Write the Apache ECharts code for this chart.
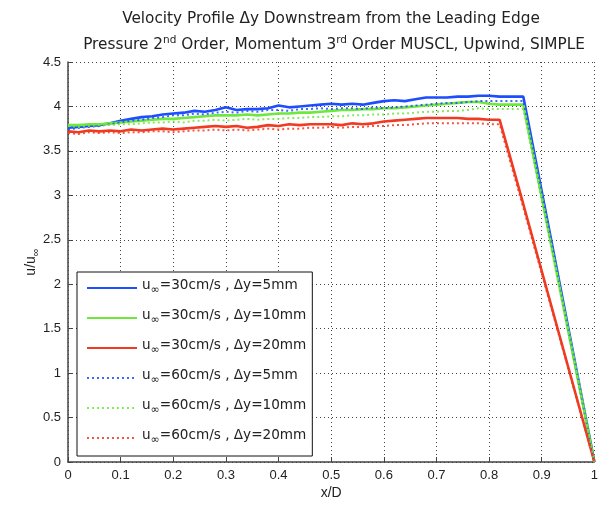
<!DOCTYPE html>
<html><head><meta charset="utf-8">
<script src="https://cdn.jsdelivr.net/npm/echarts@6/dist/echarts.min.js"></script>
<style>html,body{margin:0;padding:0;background:#fff}#c{width:601px;height:505px}</style>
</head><body><div id="c"></div>
<script>
const xs = [0,0.02,0.04,0.06,0.08,0.10,0.12,0.14,0.16,0.18,0.20,0.22,0.24,0.26,0.28,0.30,0.32,0.34,0.36,0.38,0.40,0.42,0.44,0.46,0.48,0.50,0.52,0.54,0.56,0.58,0.60,0.62,0.64,0.66,0.68,0.70,0.72,0.74,0.76,0.78,0.80,0.82,0.84,0.865,1.0];
const xTicks = ['0','0.1','0.2','0.3','0.4','0.5','0.6','0.7','0.8','0.9','1'];
const yTicks = ['0','0.5','1','1.5','2','2.5','3','3.5','4','4.5'];
const names = ['u∞=30cm/s , Δy=5mm','u∞=30cm/s , Δy=10mm','u∞=30cm/s , Δy=20mm','u∞=60cm/s , Δy=5mm','u∞=60cm/s , Δy=10mm','u∞=60cm/s , Δy=20mm'];
const s30_5 = [3.76,3.77,3.78,3.79,3.81,3.84,3.86,3.88,3.89,3.91,3.92,3.93,3.95,3.94,3.96,3.99,3.96,3.97,3.97,3.98,4.01,3.99,4.00,4.01,4.02,4.03,4.02,4.03,4.02,4.04,4.06,4.07,4.06,4.08,4.10,4.10,4.10,4.11,4.11,4.12,4.12,4.11,4.11,4.11,0];
const s30_10 = [3.79,3.79,3.80,3.80,3.81,3.82,3.83,3.84,3.85,3.86,3.86,3.87,3.88,3.89,3.90,3.90,3.90,3.91,3.90,3.91,3.92,3.92,3.93,3.93,3.94,3.95,3.96,3.96,3.97,3.97,3.98,3.98,3.99,4.00,4.01,4.02,4.03,4.04,4.05,4.05,4.03,4.02,4.02,4.02,0];
const s30_20 = [3.72,3.71,3.73,3.72,3.73,3.72,3.74,3.73,3.74,3.75,3.74,3.75,3.76,3.77,3.78,3.77,3.78,3.76,3.77,3.79,3.78,3.80,3.79,3.80,3.80,3.80,3.79,3.81,3.80,3.81,3.83,3.84,3.85,3.86,3.87,3.87,3.87,3.87,3.86,3.86,3.85,3.85,3.43,2.90,0];
const s60_5 = [3.74,3.76,3.77,3.78,3.80,3.82,3.84,3.85,3.87,3.88,3.90,3.90,3.92,3.91,3.93,3.94,3.93,3.95,3.94,3.96,3.96,3.95,3.97,3.97,3.98,3.97,3.98,3.98,3.97,3.99,3.98,3.99,4.00,4.01,4.02,4.03,4.04,4.04,4.05,4.06,4.06,4.06,4.06,4.06,0];
const s60_10 = [3.78,3.77,3.78,3.79,3.79,3.80,3.80,3.81,3.82,3.82,3.83,3.82,3.84,3.84,3.85,3.84,3.85,3.86,3.85,3.86,3.86,3.87,3.87,3.88,3.88,3.89,3.89,3.90,3.90,3.91,3.91,3.92,3.92,3.93,3.94,3.94,3.95,3.95,3.96,3.98,3.97,3.97,3.97,3.97,0];
const s60_20 = [3.70,3.69,3.71,3.70,3.71,3.70,3.71,3.71,3.72,3.72,3.71,3.72,3.73,3.73,3.74,3.73,3.74,3.73,3.74,3.75,3.74,3.75,3.75,3.76,3.76,3.77,3.76,3.77,3.77,3.78,3.78,3.79,3.79,3.80,3.81,3.81,3.81,3.81,3.81,3.81,3.80,3.80,3.38,2.86,0];

const FONT = 'Liberation Sans';
const WFONT = 'DejaVu Sans';
const BLUE = '#1c4dff', GREEN = '#6ee83c', RED = '#f03a22';
function pairs(v){ return xs.map((x,i)=>[x, v[i]]); }
const specs = [
  [s30_5, BLUE, 'solid'], [s30_10, GREEN, 'solid'], [s30_20, RED, 'solid'],
  [s60_5, BLUE, 'dotted'], [s60_10, GREEN, 'dotted'], [s60_20, RED, 'dotted']
];
const series = specs.map((s,i)=>({
  name: names[i], type: 'line', data: pairs(s[0]), symbol: 'none', showSymbol:false,
  animation:false,
  lineStyle: s[2]==='solid' ? {color:s[1], width:2.6, type:'solid'} : {color:s[1], width:2, type:[2,3], opacity:0.85},
  itemStyle: {color:s[1]}
}));

const chart = echarts.init(document.getElementById('c'), null, {renderer:'canvas'});
chart.setOption({
  backgroundColor:'#fff',
  animation:false,
  title: [
    {text:'Velocity Profile Δy Downstream from the Leading Edge', left:326, top:7, textAlign:'center',
     textStyle:{fontFamily:WFONT, fontSize:15.3, fontWeight:'normal', color:'#222'}},
    {text:'{a|Pressure 2}{s|nd}{a| Order, Momentum 3}{s|rd}{a| Order MUSCL, Upwind, SIMPLE}', left:329, top:30, textAlign:'center',
     textStyle:{fontWeight:'normal', rich:{a:{fontFamily:WFONT, fontSize:15.3, fontWeight:'normal', color:'#222', verticalAlign:'bottom', lineHeight:18},
                      s:{fontFamily:WFONT, fontSize:10.5, fontWeight:'normal', color:'#222', verticalAlign:'top', lineHeight:18, padding:[0,0,6,0]}}}}
  ],
  grid:{left:68, right:4, top:62, bottom:43, containLabel:false},
  xAxis:{type:'value', min:0, max:1, interval:0.1,
    name:'x/D', nameLocation:'middle', nameGap:24, nameMoveOverlap:false,
    nameTextStyle:{fontFamily:FONT, fontSize:14, color:'#222'},
    axisLine:{lineStyle:{color:'#444', width:1.5}},
    axisTick:{inside:true, length:5, lineStyle:{color:'#444'}},
    axisLabel:{fontFamily:FONT, fontSize:13, color:'#222', margin:7, formatter:(v)=>xTicks[Math.round(v*10)]},
    splitLine:{show:true, lineStyle:{color:'#444', type:[1,3], width:1}}
  },
  yAxis:{type:'value', min:0, max:4.5, interval:0.5,
    name:'{a|u/u}{b|∞}', nameLocation:'middle', nameGap:27, nameRotate:90, nameMoveOverlap:false,
    nameTextStyle:{rich:{a:{fontFamily:FONT, fontSize:14, color:'#222'}, b:{fontFamily:FONT, fontSize:11, color:'#222', padding:[8,0,0,0]}}},
    axisLine:{show:true, lineStyle:{color:'#444', width:1.5}},
    axisTick:{show:true, inside:true, length:5, lineStyle:{color:'#444'}},
    axisLabel:{fontFamily:FONT, fontSize:13, color:'#222', margin:7, formatter:(v)=>yTicks[Math.round(v*2)]},
    splitLine:{show:true, lineStyle:{color:'#444', type:[1,3], width:1}}
  },
  legend:{orient:'vertical', left:77, top:272, data:names,
    backgroundColor:'#fff', borderColor:'#111', borderWidth:1, padding:[6,6,10,9],
    itemWidth:50, itemHeight:14, itemGap:12, itemTextGap:3,
    itemStyle:{color:'transparent', borderWidth:0, opacity:0},
    formatter:(n)=>'{a|u}{b|∞}{a|'+n.slice(2)+'}',
    textStyle:{rich:{a:{fontFamily:WFONT, fontSize:13.6, color:'#222', lineHeight:20, verticalAlign:'top'},
                     b:{fontFamily:WFONT, fontSize:11, color:'#222', lineHeight:20, verticalAlign:'top', padding:[7,0,0,0]}}}
  },
  series: series
});
</script></body></html>
